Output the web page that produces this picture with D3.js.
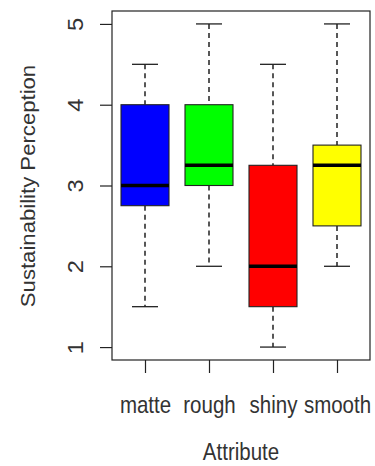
<!DOCTYPE html>
<html>
<head>
<meta charset="utf-8">
<script src="https://cdn.jsdelivr.net/npm/d3@7"></script>
<style>
  html, body { margin: 0; padding: 0; background: #fff; }
  text { font-family: "Liberation Sans", Arial, sans-serif; fill: #333; }
</style>
</head>
<body>
<svg id="chart" width="375" height="466"></svg>
<script>
// box plot stats
const attributes = ['matte', 'rough', 'shiny', 'smooth'];
const whiskerLow = [1.5, 2, 1, 2];
const q1 = [2.75, 3, 1.5, 2.5];
const median = [3, 3.25, 2, 3.25];
const q3 = [4, 4, 3.25, 3.5];
const whiskerHigh = [4.5, 5, 4.5, 5];
const boxColors = ['#0000ff', '#00ff00', '#ff0000', '#ffff00'];
const yTicks = [1, 2, 3, 4, 5];

const svg = d3.select('#chart');
const plot = { left: 112, right: 370, top: 11, bottom: 360 };

// R-style: 4% padding around the data range
const y = d3.scaleLinear().domain([0.84, 5.16]).range([plot.bottom, plot.top]);
const x = d3.scaleLinear().domain([0.5, 4.5]).range([plot.left + 1, plot.right - 1]);

const stats = attributes.map((a, i) => ({
  name: a, i: i + 1,
  lo: whiskerLow[i], q1: q1[i], med: median[i], q3: q3[i], hi: whiskerHigh[i],
  color: boxColors[i]
}));

const halfBox = 24, halfCap = 13;
const g = svg.append('g');

const box = g.selectAll('g.box').data(stats).join('g').attr('class', 'box');

// dashed whiskers
box.append('line')
  .attr('x1', d => x(d.i)).attr('x2', d => x(d.i))
  .attr('y1', d => y(d.hi)).attr('y2', d => y(d.q3))
  .attr('stroke', '#111').attr('stroke-width', 1.4).attr('stroke-dasharray', '5,4');
box.append('line')
  .attr('x1', d => x(d.i)).attr('x2', d => x(d.i))
  .attr('y1', d => y(d.q1)).attr('y2', d => y(d.lo))
  .attr('stroke', '#111').attr('stroke-width', 1.4).attr('stroke-dasharray', '5,4');

// staples
['hi', 'lo'].forEach(k => {
  box.append('line')
    .attr('x1', d => x(d.i) - halfCap).attr('x2', d => x(d.i) + halfCap)
    .attr('y1', d => y(d[k])).attr('y2', d => y(d[k]))
    .attr('stroke', '#222').attr('stroke-width', 1.3);
});

box.append('rect')
  .attr('x', d => x(d.i) - halfBox)
  .attr('width', halfBox * 2)
  .attr('y', d => y(d.q3))
  .attr('height', d => y(d.q1) - y(d.q3))
  .attr('fill', d => d.color)
  .attr('stroke', '#222').attr('stroke-width', 1.1);

box.append('line')
  .attr('x1', d => x(d.i) - halfBox).attr('x2', d => x(d.i) + halfBox)
  .attr('y1', d => y(d.med)).attr('y2', d => y(d.med))
  .attr('stroke', '#000').attr('stroke-width', 3.5);

// frame
svg.append('rect')
  .attr('x', plot.left).attr('y', plot.top)
  .attr('width', plot.right - plot.left).attr('height', plot.bottom - plot.top)
  .attr('fill', 'none').attr('stroke', '#222').attr('stroke-width', 1.2);

// y axis, labels turned like R's las=0
const yAxis = svg.append('g').attr('transform', `translate(${plot.left},0)`)
  .call(d3.axisLeft(y).tickValues(yTicks).tickSize(12).tickFormat(d3.format('d')));
yAxis.select('.domain').remove();
yAxis.selectAll('line').attr('stroke', '#222').attr('stroke-width', 1.2);
yAxis.selectAll('text')
  .attr('font-size', 22.5).attr('font-family', '"Liberation Sans", Arial, sans-serif')
  .attr('fill', '#333')
  .attr('x', 0).attr('y', 0).attr('dy', 0)
  .attr('text-anchor', 'middle')
  .attr('transform', 'translate(-29,0) rotate(-90) scale(1.05,1)');

// x axis
const xAxis = svg.append('g').attr('transform', `translate(0,${plot.bottom})`)
  .call(d3.axisBottom(x).tickValues([1, 2, 3, 4]).tickSize(13).tickFormat((d, i) => attributes[i]));
xAxis.select('.domain').remove();
xAxis.selectAll('line').attr('stroke', '#222').attr('stroke-width', 1.2);
xAxis.selectAll('text')
  .attr('font-size', 20.5).attr('font-family', '"Liberation Sans", Arial, sans-serif')
  .attr('fill', '#333').attr('y', 0).attr('dy', 0)
  .attr('transform', 'translate(0,53) scale(1,1.15)');

// axis titles
svg.append('text')
  .attr('transform', `translate(${x(2.5)},460) scale(1,1.15)`)
  .attr('text-anchor', 'middle').attr('font-size', 20.5)
  .text('Attribute');

svg.append('text')
  .attr('transform', `translate(35,186) rotate(-90) scale(1.08,1)`)
  .attr('text-anchor', 'middle').attr('font-size', 20.5)
  .text('Sustainability Perception');
</script>
</body>
</html>
